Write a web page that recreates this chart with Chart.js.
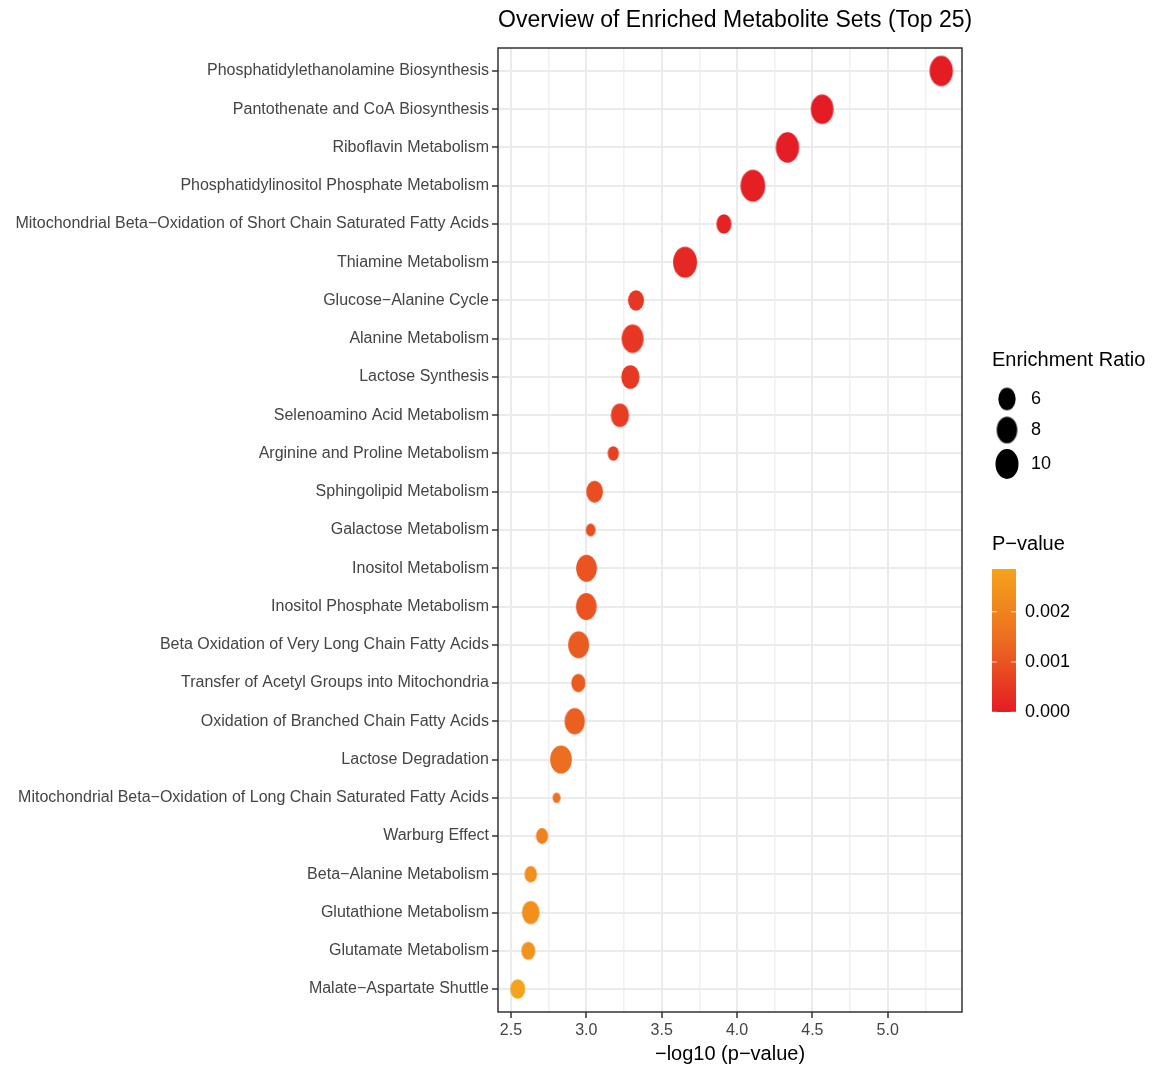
<!DOCTYPE html>
<html>
<head>
<meta charset="utf-8">
<script src="https://cdn.jsdelivr.net/npm/chart.js@4.4.0/dist/chart.umd.min.js"></script>
<style>
  html, body { margin: 0; padding: 0; background: #fff; }
</style>
</head>
<body>
<canvas id="myChart" width="1155" height="1072"></canvas>
<script>
// metabolite sets, top to bottom
const pathways = [
  'Phosphatidylethanolamine Biosynthesis',
  'Pantothenate and CoA Biosynthesis',
  'Riboflavin Metabolism',
  'Phosphatidylinositol Phosphate Metabolism',
  'Mitochondrial Beta\u2212Oxidation of Short Chain Saturated Fatty Acids',
  'Thiamine Metabolism',
  'Glucose\u2212Alanine Cycle',
  'Alanine Metabolism',
  'Lactose Synthesis',
  'Selenoamino Acid Metabolism',
  'Arginine and Proline Metabolism',
  'Sphingolipid Metabolism',
  'Galactose Metabolism',
  'Inositol Metabolism',
  'Inositol Phosphate Metabolism',
  'Beta Oxidation of Very Long Chain Fatty Acids',
  'Transfer of Acetyl Groups into Mitochondria',
  'Oxidation of Branched Chain Fatty Acids',
  'Lactose Degradation',
  'Mitochondrial Beta\u2212Oxidation of Long Chain Saturated Fatty Acids',
  'Warburg Effect',
  'Beta\u2212Alanine Metabolism',
  'Glutathione Metabolism',
  'Glutamate Metabolism',
  'Malate\u2212Aspartate Shuttle'
];
const logP = [5.355, 4.565, 4.335, 4.105, 3.913, 3.655, 3.33, 3.307, 3.292, 3.223,
  3.179, 3.055, 3.029, 3.001, 3.0, 2.949, 2.947, 2.923, 2.832, 2.803,
  2.706, 2.631, 2.631, 2.615, 2.545];
const enrichRatio = [10.2, 9.7, 10.2, 11.5, 4.9, 10.8, 5.3, 9.1, 6.5, 6.5,
  3.8, 5.7, 3.6, 8.1, 8.1, 8.3, 4.6, 7.8, 8.9, 3.5,
  4.0, 4.1, 6.2, 4.5, 4.9];
const xTickLabels = ['2.5', '3.0', '3.5', '4.0', '4.5', '5.0'];
const sizeBreaks = [6, 8, 10];
const pTickLabels = ['0.000', '0.001', '0.002'];

const FONT = "'Liberation Sans', Arial, sans-serif";
Chart.defaults.font.family = FONT;

// p-value colour scale (red -> orange)
const pVals = logP.map(v => Math.pow(10, -v));
const pMin = Math.min(...pVals), pMax = Math.max(...pVals);
const colStops = [[0, [228, 28, 36]], [0.5, [236, 108, 32]], [1, [245, 163, 28]]];
function colorFor(p) {
  let t = (p - pMin) / (pMax - pMin);
  t = Math.max(0, Math.min(1, t));
  for (let i = 1; i < colStops.length; i++) {
    if (t <= colStops[i][0]) {
      let a = colStops[i - 1], b = colStops[i];
      let u = (t - a[0]) / (b[0] - a[0]);
      let c = a[1].map((v, k) => Math.round(v + (b[1][k] - v) * u));
      return 'rgb(' + c.join(',') + ')';
    }
  }
  return 'rgb(' + colStops[colStops.length - 1][1].join(',') + ')';
}

// size scale (area style, like ggplot)
const rMin = Math.min(...enrichRatio), rMax = Math.max(...enrichRatio);
function widthFor(r) {
  let t = Math.max(0, (r - rMin) / (rMax - rMin));
  return 8 + 16.7 * Math.sqrt(t);
}

const dotCache = {};
function dotImage(r, color) {
  let key = r + color;
  if (dotCache[key]) return dotCache[key];
  let w = widthFor(r), h = w * 1.3;
  let cv = document.createElement('canvas');
  cv.width = Math.ceil(w) + 2;
  cv.height = Math.ceil(h) + 2;
  let c = cv.getContext('2d');
  c.fillStyle = color;
  c.beginPath();
  c.ellipse(cv.width / 2, cv.height / 2, w / 2, h / 2, 0, 0, Math.PI * 2);
  c.fill();
  dotCache[key] = cv;
  return cv;
}

const points = pathways.map((name, i) => ({ x: logP[i], y: i }));

const extras = {
  id: 'extras',
  afterDatasetsDraw(chart) {
    const { ctx, chartArea: a } = chart;
    ctx.save();
    ctx.strokeStyle = '#333333';
    ctx.lineWidth = 1.5;
    ctx.strokeRect(a.left, a.top, a.right - a.left, a.bottom - a.top);
    ctx.restore();
  },
  afterDraw(chart) {
    const { ctx, chartArea: a } = chart;
    ctx.save();
    // title
    ctx.fillStyle = '#000';
    ctx.font = '23px ' + FONT;
    ctx.textBaseline = 'middle';
    ctx.textAlign = 'left';
    ctx.fillText('Overview of Enriched Metabolite Sets (Top 25)', a.left, 21);

    // size legend
    ctx.font = '20px ' + FONT;
    ctx.fillText('Enrichment Ratio', 992, 360);
    const keyY = [399, 430, 464];
    ctx.font = '18px ' + FONT;
    sizeBreaks.forEach((b, i) => {
      let img = dotImage(b, '#000');
      ctx.drawImage(img, 1007 - img.width / 2, keyY[i] - img.height / 2);
      ctx.fillText(String(b), 1031, keyY[i]);
    });

    // colour bar
    ctx.font = '20px ' + FONT;
    ctx.fillText('P\u2212value', 992, 544);
    const barL = 992, barW = 24, barBot = 712, barH = 143;
    const grad = ctx.createLinearGradient(0, barBot, 0, barBot - barH);
    for (let k = 0; k <= 10; k++) {
      grad.addColorStop(k / 10, colorFor(pMin + (pMax - pMin) * k / 10));
    }
    ctx.fillStyle = grad;
    ctx.fillRect(barL, barBot - barH, barW, barH);
    ctx.font = '18px ' + FONT;
    pTickLabels.forEach(lbl => {
      let p = parseFloat(lbl);
      let y = barBot - (p - pMin) / (pMax - pMin) * barH;
      ctx.strokeStyle = 'rgba(255,255,255,0.8)';
      ctx.lineWidth = 1;
      ctx.beginPath();
      ctx.moveTo(barL, y); ctx.lineTo(barL + 5, y);
      ctx.moveTo(barL + barW - 5, y); ctx.lineTo(barL + barW, y);
      ctx.stroke();
      ctx.fillStyle = '#000';
      ctx.fillText(lbl, 1025, y);
    });
    ctx.restore();
  }
};

let ctx = document.getElementById('myChart').getContext('2d');
let myChart = new Chart(ctx, {
  type: 'scatter',
  data: {
    datasets: [{
      data: points,
      pointStyle: c => c.dataIndex === undefined ? 'circle'
        : dotImage(enrichRatio[c.dataIndex], colorFor(pVals[c.dataIndex])),
      pointRadius: c => c.dataIndex === undefined ? 5 : widthFor(enrichRatio[c.dataIndex]) / 2
    }]
  },
  options: {
    responsive: false,
    animation: false,
    layout: { padding: { top: 48, right: 193, left: 0, bottom: 0 } },
    plugins: { legend: { display: false }, tooltip: { enabled: false } },
    scales: {
      x: {
        type: 'linear',
        min: 2.414,
        max: 5.493,
        afterBuildTicks: s => {
          let major = xTickLabels.map(Number);
          let t = [];
          major.forEach(v => { t.push({ value: v }); t.push({ value: v + 0.25 }); });
          s.ticks = t.filter(o => o.value <= s.max);
        },
        afterFit: s => { s.height = 60; },
        border: { display: false },
        grid: {
          color: c => (c.index % 2 === 0 ? '#EBEBEB' : '#F0F0F0'),
          lineWidth: c => (c.index % 2 === 0 ? 2 : 1.5),
          tickColor: c => (c.index % 2 === 0 ? '#333333' : 'rgba(0,0,0,0)'),
          tickWidth: 1.5,
          tickLength: 6
        },
        ticks: {
          autoSkip: false,
          maxRotation: 0,
          padding: 3,
          color: '#444',
          font: { size: 16 },
          callback: (v, i) => (i % 2 === 0 ? xTickLabels[i / 2] : '')
        },
        title: {
          display: true,
          text: '\u2212log10 (p\u2212value)',
          color: '#000',
          font: { size: 20 },
          padding: { top: 0, bottom: 6 }
        }
      },
      y: {
        type: 'linear',
        reverse: true,
        min: -0.6,
        max: 24.6,
        afterBuildTicks: s => { s.ticks = pathways.map((p, i) => ({ value: i })); },
        afterFit: s => { s.width = 498; },
        border: { display: false },
        grid: {
          color: '#EBEBEB',
          lineWidth: 2,
          tickColor: '#333333',
          tickWidth: 1.5,
          tickLength: 6
        },
        ticks: {
          autoSkip: false,
          padding: 3,
          color: '#444',
          font: { size: 16 },
          callback: v => pathways[v]
        }
      }
    }
  },
  plugins: [extras]
});
</script>
</body>
</html>
